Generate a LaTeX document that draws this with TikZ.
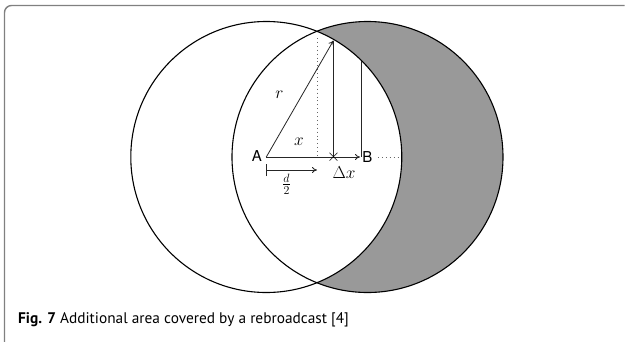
\documentclass[tikz,border=0pt]{standalone}
\usepackage{fontspec}
\setmainfont{PT Sans}
\newfontfamily\labfont{TeX Gyre Heros}
\usetikzlibrary{arrows.meta}
\definecolor{crescent}{RGB}{153,153,153}
\definecolor{framegray}{RGB}{128,128,128}
\tikzset{
  circ/.style={draw=black, line width=1.1pt},
  thin line/.style={draw=black!85, line width=0.8pt},
  arr/.style={thin line, -{To[length=5pt,width=6pt]}},
  dots/.style={draw=black!60, line width=0.9pt, dash pattern=on 0.9pt off 3pt},
  mathlab/.style={font=\fontsize{16}{19}\selectfont, inner sep=0pt},
  ptlab/.style={font=\labfont\fontsize{15}{18}\selectfont, inner sep=0pt},
  framepath/.style={draw=framegray, line width=1.4pt, rounded corners=7pt}
}
\begin{document}
\begin{tikzpicture}[x=1pt,y=-1pt]
\useasboundingbox (0,0) rectangle (625,341);
% frame
\coordinate (fbl) at (4.5,345);
\coordinate (ftl) at (4.5,5.5);
\coordinate (ftr) at (624.5,5.5);
\draw[framepath] (fbl) -- (ftl) -- (ftr);
% centres
\coordinate (A) at (266.3,157);
\coordinate (B) at (367.5,157);
% crescent fill
\fill[crescent] (B) circle[radius=135.5];
\fill[white] (A) circle[radius=135.5];
\draw[circ] (A) circle[radius=135.5];
\draw[circ] (B) circle[radius=135.5];
% points
\coordinate (M) at (317,157);
\coordinate (Mtop) at (317,38);
\coordinate (X) at (333.5,157);
\coordinate (P) at (333.5,40.5);
\coordinate (Bt) at (360,157);
\coordinate (Q) at (361,61);
\coordinate (Qb) at (361,157);
\coordinate (Dend) at (398,157);
\coordinate (Dstart) at (378,157);
% dotted lines
\draw[dots] (Mtop) -- (M);
\draw[dots] (Dstart) -- (Dend);
% radius arrow
\draw[arr] (A) -- (P);
% verticals
\draw[thin line] (P) -- (X);
\draw[thin line] (Q) -- (Qb);
% baseline
\draw[thin line] (A) -- (X);
\draw[arr] (X) -- (Bt);
\node[font=\fontsize{18}{20}\selectfont, inner sep=0pt] (cross) at (X) {$\times$};
% d/2 arrow
\coordinate (Ds) at (266.3,170);
\coordinate (De) at (317,170);
\draw[thin line, {Bar[width=12pt]}-{To[length=5pt,width=6pt]}] (Ds) -- (De);
% labels
\node[ptlab] (labA) at (257,156.5) {A};
\node[ptlab] (labB) at (367.5,157) {B};
\node[mathlab] (labr) at (279.5,95) {$r$};
\node[mathlab] (labx) at (299,142) {$x$};
\node[mathlab] (labdx) at (344,173) {$\Delta x$};
\node[font=\fontsize{18}{21}\selectfont, inner sep=0pt, anchor=north] (labd2) at (286.5,173.5) {$\frac{d}{2}$};
% caption
\node[anchor=base west, inner sep=0pt, font=\fontsize{15.35}{18}\selectfont] (cap) at (18,323.5) {\textbf{Fig. 7} Additional area covered by a rebroadcast [4]};
\end{tikzpicture}
\end{document}
